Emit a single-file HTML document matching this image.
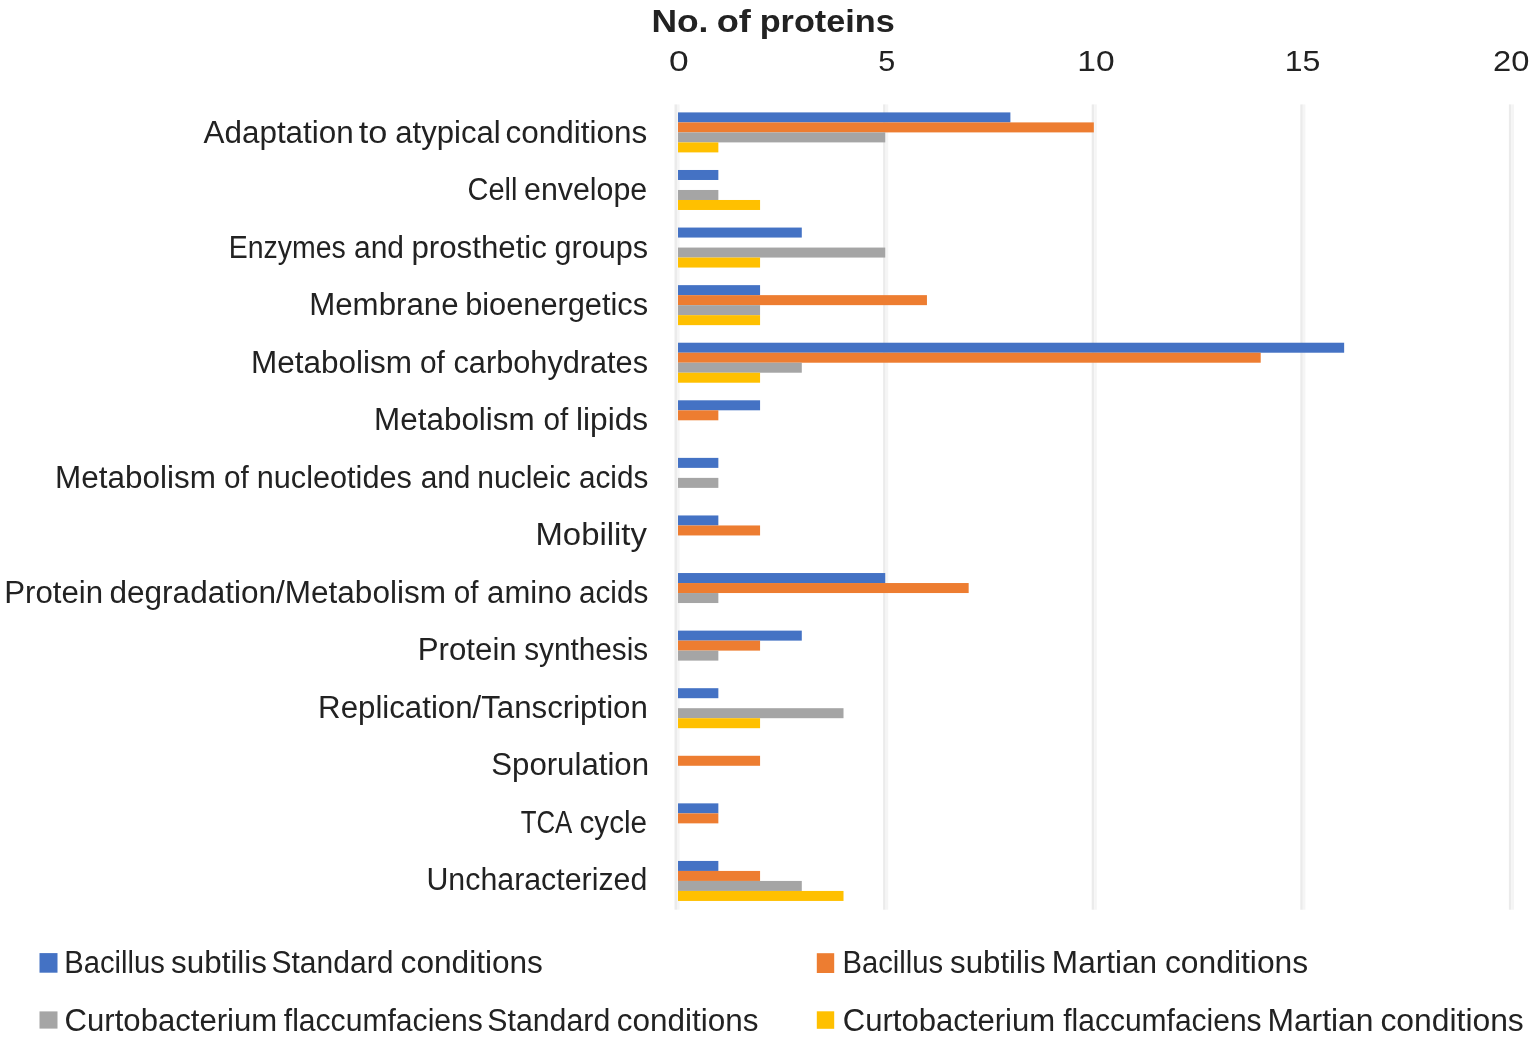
<!DOCTYPE html>
<html lang="en"><head><meta charset="utf-8"><title>No. of proteins</title>
<style>html,body{margin:0;padding:0;background:#fff}body{width:1535px;height:1038px;overflow:hidden}svg{display:block;filter:blur(0.45px)}text{font-family:"Liberation Sans",sans-serif;fill:#222222;white-space:pre}</style></head><body>
<svg width="1535" height="1038" viewBox="0 0 1535 1038">
<rect width="1535" height="1038" fill="#ffffff"/>
<g id="gridlines">
<rect x="674.50" y="104.4" width="2.5" height="805.3" fill="#ebebeb"/><rect x="677.00" y="104.4" width="2.6" height="805.3" fill="#f5f5f5"/>
<rect x="883.10" y="104.4" width="2.5" height="805.3" fill="#ebebeb"/><rect x="885.60" y="104.4" width="2.6" height="805.3" fill="#f5f5f5"/>
<rect x="1091.70" y="104.4" width="2.5" height="805.3" fill="#ebebeb"/><rect x="1094.20" y="104.4" width="2.6" height="805.3" fill="#f5f5f5"/>
<rect x="1300.30" y="104.4" width="2.5" height="805.3" fill="#ebebeb"/><rect x="1302.80" y="104.4" width="2.6" height="805.3" fill="#f5f5f5"/>
<rect x="1508.90" y="104.4" width="2.5" height="805.3" fill="#ebebeb"/><rect x="1511.40" y="104.4" width="2.6" height="805.3" fill="#f5f5f5"/>
</g>
<g id="bars">
<rect x="678" y="112.40" width="332.39" height="10.0" fill="#4472C4"/>
<rect x="678" y="122.40" width="415.83" height="10.0" fill="#ED7D31"/>
<rect x="678" y="132.40" width="207.23" height="10.0" fill="#A5A5A5"/>
<rect x="678" y="142.40" width="40.35" height="10.0" fill="#FFC000"/>
<rect x="678" y="169.98" width="40.35" height="10.0" fill="#4472C4"/>
<rect x="678" y="189.98" width="40.35" height="10.0" fill="#A5A5A5"/>
<rect x="678" y="199.98" width="82.07" height="10.0" fill="#FFC000"/>
<rect x="678" y="227.56" width="123.79" height="10.0" fill="#4472C4"/>
<rect x="678" y="247.56" width="207.23" height="10.0" fill="#A5A5A5"/>
<rect x="678" y="257.56" width="82.07" height="10.0" fill="#FFC000"/>
<rect x="678" y="285.14" width="82.07" height="10.0" fill="#4472C4"/>
<rect x="678" y="295.14" width="248.95" height="10.0" fill="#ED7D31"/>
<rect x="678" y="305.14" width="82.07" height="10.0" fill="#A5A5A5"/>
<rect x="678" y="315.14" width="82.07" height="10.0" fill="#FFC000"/>
<rect x="678" y="342.72" width="666.15" height="10.0" fill="#4472C4"/>
<rect x="678" y="352.72" width="582.71" height="10.0" fill="#ED7D31"/>
<rect x="678" y="362.72" width="123.79" height="10.0" fill="#A5A5A5"/>
<rect x="678" y="372.72" width="82.07" height="10.0" fill="#FFC000"/>
<rect x="678" y="400.30" width="82.07" height="10.0" fill="#4472C4"/>
<rect x="678" y="410.30" width="40.35" height="10.0" fill="#ED7D31"/>
<rect x="678" y="457.88" width="40.35" height="10.0" fill="#4472C4"/>
<rect x="678" y="477.88" width="40.35" height="10.0" fill="#A5A5A5"/>
<rect x="678" y="515.46" width="40.35" height="10.0" fill="#4472C4"/>
<rect x="678" y="525.46" width="82.07" height="10.0" fill="#ED7D31"/>
<rect x="678" y="573.04" width="207.23" height="10.0" fill="#4472C4"/>
<rect x="678" y="583.04" width="290.67" height="10.0" fill="#ED7D31"/>
<rect x="678" y="593.04" width="40.35" height="10.0" fill="#A5A5A5"/>
<rect x="678" y="630.62" width="123.79" height="10.0" fill="#4472C4"/>
<rect x="678" y="640.62" width="82.07" height="10.0" fill="#ED7D31"/>
<rect x="678" y="650.62" width="40.35" height="10.0" fill="#A5A5A5"/>
<rect x="678" y="688.20" width="40.35" height="10.0" fill="#4472C4"/>
<rect x="678" y="708.20" width="165.51" height="10.0" fill="#A5A5A5"/>
<rect x="678" y="718.20" width="82.07" height="10.0" fill="#FFC000"/>
<rect x="678" y="755.78" width="82.07" height="10.0" fill="#ED7D31"/>
<rect x="678" y="803.36" width="40.35" height="10.0" fill="#4472C4"/>
<rect x="678" y="813.36" width="40.35" height="10.0" fill="#ED7D31"/>
<rect x="678" y="860.94" width="40.35" height="10.0" fill="#4472C4"/>
<rect x="678" y="870.94" width="82.07" height="10.0" fill="#ED7D31"/>
<rect x="678" y="880.94" width="123.79" height="10.0" fill="#A5A5A5"/>
<rect x="678" y="890.94" width="165.51" height="10.0" fill="#FFC000"/>
</g>
<g id="legend-markers">
<rect x="39.5" y="953.1" width="18" height="19.6" fill="#4472C4"/>
<rect x="816.8" y="953.2" width="17.4" height="19.8" fill="#ED7D31"/>
<rect x="39.5" y="1011.4" width="18" height="17.2" fill="#A5A5A5"/>
<rect x="816.8" y="1011.3" width="17.4" height="17.5" fill="#FFC000"/>
</g>
<g id="labels">
<text font-size="32.0" font-weight="bold"><tspan x="651.40" y="32.00" textLength="57.04" lengthAdjust="spacingAndGlyphs">No.</tspan> <tspan x="716.70" y="32.00" textLength="34.19" lengthAdjust="spacingAndGlyphs">of</tspan> <tspan x="759.71" y="32.00" textLength="135.09" lengthAdjust="spacingAndGlyphs">proteins</tspan></text>
<text font-size="29.8"><tspan x="668.92" y="70.60" textLength="19.68" lengthAdjust="spacingAndGlyphs">0</tspan></text>
<text font-size="29.8"><tspan x="878.19" y="70.60" textLength="16.94" lengthAdjust="spacingAndGlyphs">5</tspan></text>
<text font-size="29.8"><tspan x="1077.37" y="70.60" textLength="37.33" lengthAdjust="spacingAndGlyphs">10</tspan></text>
<text font-size="29.8"><tspan x="1284.82" y="70.60" textLength="35.63" lengthAdjust="spacingAndGlyphs">15</tspan></text>
<text font-size="29.8"><tspan x="1493.07" y="70.60" textLength="36.40" lengthAdjust="spacingAndGlyphs">20</tspan></text>
<text font-size="30.8"><tspan x="203.56" y="142.60" textLength="150.17" lengthAdjust="spacingAndGlyphs">Adaptation</tspan> <tspan x="358.84" y="142.60" textLength="28.57" lengthAdjust="spacingAndGlyphs">to</tspan> <tspan x="395.28" y="142.60" textLength="105.38" lengthAdjust="spacingAndGlyphs">atypical</tspan> <tspan x="505.44" y="142.60" textLength="141.69" lengthAdjust="spacingAndGlyphs">conditions</tspan></text>
<text font-size="30.8"><tspan x="467.49" y="200.10" textLength="49.95" lengthAdjust="spacingAndGlyphs">Cell</tspan> <tspan x="524.04" y="200.10" textLength="123.18" lengthAdjust="spacingAndGlyphs">envelope</tspan></text>
<text font-size="30.8"><tspan x="228.67" y="257.60" textLength="117.06" lengthAdjust="spacingAndGlyphs">Enzymes</tspan> <tspan x="354.04" y="257.60" textLength="49.98" lengthAdjust="spacingAndGlyphs">and</tspan> <tspan x="411.46" y="257.60" textLength="135.46" lengthAdjust="spacingAndGlyphs">prosthetic</tspan> <tspan x="554.50" y="257.60" textLength="93.58" lengthAdjust="spacingAndGlyphs">groups</tspan></text>
<text font-size="30.8"><tspan x="309.24" y="315.10" textLength="149.28" lengthAdjust="spacingAndGlyphs">Membrane</tspan> <tspan x="465.17" y="315.10" textLength="182.96" lengthAdjust="spacingAndGlyphs">bioenergetics</tspan></text>
<text font-size="30.8"><tspan x="251.07" y="372.60" textLength="160.93" lengthAdjust="spacingAndGlyphs">Metabolism</tspan> <tspan x="419.88" y="372.60" textLength="24.87" lengthAdjust="spacingAndGlyphs">of</tspan> <tspan x="453.53" y="372.60" textLength="194.54" lengthAdjust="spacingAndGlyphs">carbohydrates</tspan></text>
<text font-size="30.8"><tspan x="374.13" y="430.10" textLength="160.53" lengthAdjust="spacingAndGlyphs">Metabolism</tspan> <tspan x="543.45" y="430.10" textLength="24.70" lengthAdjust="spacingAndGlyphs">of</tspan> <tspan x="576.01" y="430.10" textLength="72.19" lengthAdjust="spacingAndGlyphs">lipids</tspan></text>
<text font-size="30.8"><tspan x="55.13" y="487.60" textLength="160.72" lengthAdjust="spacingAndGlyphs">Metabolism</tspan> <tspan x="223.93" y="487.60" textLength="24.79" lengthAdjust="spacingAndGlyphs">of</tspan> <tspan x="256.79" y="487.60" textLength="155.01" lengthAdjust="spacingAndGlyphs">nucleotides</tspan> <tspan x="420.68" y="487.60" textLength="49.80" lengthAdjust="spacingAndGlyphs">and</tspan> <tspan x="477.33" y="487.60" textLength="93.32" lengthAdjust="spacingAndGlyphs">nucleic</tspan> <tspan x="578.99" y="487.60" textLength="69.34" lengthAdjust="spacingAndGlyphs">acids</tspan></text>
<text font-size="30.8"><tspan x="535.51" y="545.10" textLength="111.34" lengthAdjust="spacingAndGlyphs">Mobility</tspan></text>
<text font-size="30.8"><tspan x="4.30" y="602.60" textLength="98.82" lengthAdjust="spacingAndGlyphs">Protein</tspan> <tspan x="109.51" y="602.60" textLength="336.47" lengthAdjust="spacingAndGlyphs">degradation/Metabolism</tspan> <tspan x="453.73" y="602.60" textLength="24.70" lengthAdjust="spacingAndGlyphs">of</tspan> <tspan x="487.14" y="602.60" textLength="84.60" lengthAdjust="spacingAndGlyphs">amino</tspan> <tspan x="578.99" y="602.60" textLength="69.34" lengthAdjust="spacingAndGlyphs">acids</tspan></text>
<text font-size="30.8"><tspan x="417.80" y="660.10" textLength="98.89" lengthAdjust="spacingAndGlyphs">Protein</tspan> <tspan x="524.20" y="660.10" textLength="124.05" lengthAdjust="spacingAndGlyphs">synthesis</tspan></text>
<text font-size="30.8"><tspan x="318.14" y="717.60" textLength="329.69" lengthAdjust="spacingAndGlyphs">Replication/Tanscription</tspan></text>
<text font-size="30.8"><tspan x="491.25" y="775.10" textLength="157.78" lengthAdjust="spacingAndGlyphs">Sporulation</tspan></text>
<text font-size="30.8"><tspan x="520.71" y="832.60" textLength="50.12" lengthAdjust="spacingAndGlyphs">TCA</tspan> <tspan x="579.55" y="832.60" textLength="67.55" lengthAdjust="spacingAndGlyphs">cycle</tspan></text>
<text font-size="30.8"><tspan x="426.47" y="890.10" textLength="220.84" lengthAdjust="spacingAndGlyphs">Uncharacterized</tspan></text>
<text font-size="30.8"><tspan x="64.31" y="972.90" textLength="100.55" lengthAdjust="spacingAndGlyphs">Bacillus</tspan> <tspan x="171.10" y="972.90" textLength="95.91" lengthAdjust="spacingAndGlyphs">subtilis</tspan> <tspan x="271.52" y="972.90" textLength="121.82" lengthAdjust="spacingAndGlyphs">Standard</tspan> <tspan x="400.63" y="972.90" textLength="142.28" lengthAdjust="spacingAndGlyphs">conditions</tspan></text>
<text font-size="30.8"><tspan x="842.61" y="972.90" textLength="100.49" lengthAdjust="spacingAndGlyphs">Bacillus</tspan> <tspan x="950.10" y="972.90" textLength="95.42" lengthAdjust="spacingAndGlyphs">subtilis</tspan> <tspan x="1051.88" y="972.90" textLength="105.20" lengthAdjust="spacingAndGlyphs">Martian</tspan> <tspan x="1164.97" y="972.90" textLength="143.22" lengthAdjust="spacingAndGlyphs">conditions</tspan></text>
<text font-size="30.8"><tspan x="64.62" y="1031.00" textLength="212.52" lengthAdjust="spacingAndGlyphs">Curtobacterium</tspan> <tspan x="283.79" y="1031.00" textLength="199.06" lengthAdjust="spacingAndGlyphs">flaccumfaciens</tspan> <tspan x="487.28" y="1031.00" textLength="122.97" lengthAdjust="spacingAndGlyphs">Standard</tspan> <tspan x="616.79" y="1031.00" textLength="141.85" lengthAdjust="spacingAndGlyphs">conditions</tspan></text>
<text font-size="30.8"><tspan x="842.72" y="1031.00" textLength="212.40" lengthAdjust="spacingAndGlyphs">Curtobacterium</tspan> <tspan x="1063.23" y="1031.00" textLength="198.39" lengthAdjust="spacingAndGlyphs">flaccumfaciens</tspan> <tspan x="1267.40" y="1031.00" textLength="106.09" lengthAdjust="spacingAndGlyphs">Martian</tspan> <tspan x="1380.42" y="1031.00" textLength="143.40" lengthAdjust="spacingAndGlyphs">conditions</tspan></text>
</g>
</svg></body></html>
